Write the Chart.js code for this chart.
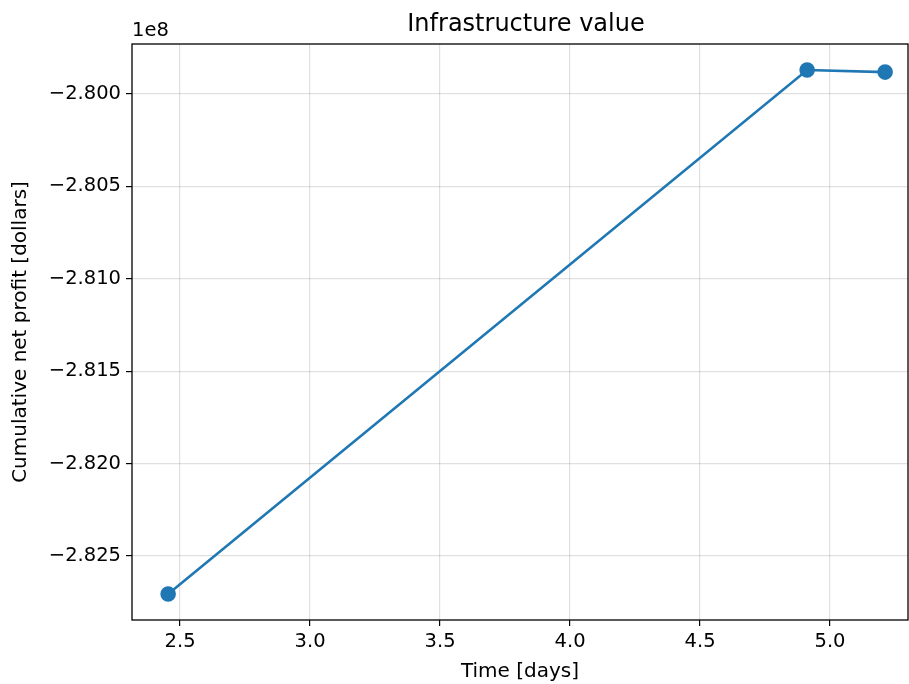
<!DOCTYPE html>
<html>
<head>
<meta charset="utf-8">
<script src="https://cdn.jsdelivr.net/npm/chart.js@4"></script>
<style>
  html, body { margin: 0; padding: 0; background: #fff; overflow: hidden; }
  canvas { display: block; }
</style>
</head>
<body>
<canvas id="chartProfit" width="909" height="684"></canvas>
<script>
// data (profit in units of 1e8 dollars)
const timeDays = [2.454, 4.912, 5.212];
const netProfit = [-2.82706, -2.79870, -2.79881];
const xTicks = [2.5, 3.0, 3.5, 4.0, 4.5, 5.0];
const yTicks = [-2.825, -2.820, -2.815, -2.810, -2.805, -2.800];

const FONT = 'DejaVu Sans';

const boxPlugin = {
    id: 'box',
    afterDraw(chart) {
        const ctx = chart.ctx;
        const a = chart.chartArea;
        ctx.save();
        ctx.strokeStyle = '#000';
        ctx.lineWidth = 1.3;
        ctx.strokeRect(a.left, a.top, a.right - a.left, a.bottom - a.top);
        ctx.fillStyle = '#000';
        ctx.font = '19.5px "' + FONT + '"';
        ctx.textAlign = 'left';
        ctx.textBaseline = 'bottom';
        ctx.fillText('1e8', a.left, a.top - 3);
        ctx.font = '24px "' + FONT + '"';
        ctx.textAlign = 'center';
        ctx.textBaseline = 'middle';
        ctx.fillText('Infrastructure value', (a.left + a.right) / 2 + 6, 25);
        ctx.restore();
    }
};

const data = {
    datasets: [{
        label: 'Infrastructure value',
        data: timeDays.map((t, i) => ({x: t, y: netProfit[i]})),
        borderColor: '#1f77b4',
        backgroundColor: '#1f77b4',
        borderWidth: 2.6,
        pointRadius: 6.5,
        pointHoverRadius: 6.5,
        tension: 0
    }]
};

const config = {
    type: 'line',
    data: data,
    options: {
        responsive: false,
        animation: false,
        layout: { autoPadding: false, padding: { top: 44, right: 1, left: 0, bottom: 0 } },
        plugins: {
            legend: { display: false },
            title: { display: false },
            tooltip: { enabled: false }
        },
        scales: {
            x: {
                type: 'linear',
                min: 2.315,
                max: 5.3,
                afterBuildTicks: s => { s.ticks = xTicks.map(v => ({value: v})); },
                afterFit: s => { s.height = 64; s.paddingLeft = 0; s.paddingRight = 0; },
                ticks: {
                    color: '#000',
                    font: { family: FONT, size: 19.5 },
                    padding: 4,
                    maxRotation: 0,
                    callback: v => v.toFixed(1)
                },
                grid: { color: 'rgba(0,0,0,0.12)', tickColor: '#000', tickLength: 6, lineWidth: 1.2 },
                border: { display: false },
                title: {
                    display: true,
                    text: 'Time [days]',
                    color: '#000',
                    font: { family: FONT, size: 20 },
                    padding: { top: 4, bottom: 0 }
                }
            },
            y: {
                type: 'linear',
                min: -2.82847,
                max: -2.79729,
                afterBuildTicks: s => { s.ticks = yTicks.map(v => ({value: v})); },
                afterFit: s => { s.width = 132; s.paddingTop = 0; s.paddingBottom = 0; },
                ticks: {
                    color: '#000',
                    font: { family: FONT, size: 19.5 },
                    padding: 5,
                    callback: v => '\u2212' + Math.abs(v).toFixed(3)
                },
                grid: { color: 'rgba(0,0,0,0.12)', tickColor: '#000', tickLength: 6, lineWidth: 1.2 },
                border: { display: false },
                title: {
                    display: true,
                    text: 'Cumulative net profit [dollars]',
                    color: '#000',
                    font: { family: FONT, size: 20 },
                    padding: { top: 9, bottom: 2 }
                }
            }
        }
    },
    plugins: [boxPlugin]
};

new Chart(document.getElementById('chartProfit'), config);
</script>
</body>
</html>
